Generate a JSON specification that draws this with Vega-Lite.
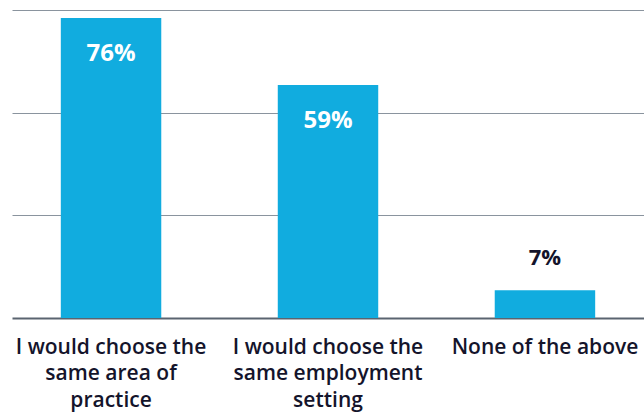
{
  "$schema": "https://vega.github.io/schema/vega-lite/v6.json",
  "autosize": "none",
  "padding": {"left": 12, "top": 10, "right": 0, "bottom": 94},
  "width": 632,
  "height": 308,
  "background": "white",
  "config": {"view": {"stroke": null}},
  "data": {"values": [
    {"category": "I would choose the|same area of|practice", "value": 76, "label": "76%"},
    {"category": "I would choose the|same employment|setting", "value": 59, "label": "59%"},
    {"category": "None of the above", "value": 7, "label": "7%"}
  ]},
  "encoding": {
    "x": {"field": "category", "type": "nominal", "sort": null,
      "scale": {"paddingInner": 0.537, "paddingOuter": 0.225},
      "axis": {"title": null, "labelAngle": 0, "labelExpr": "split(datum.label, '|')",
        "labelFont": "Open Sans", "labelFontSize": 21, "labelFontWeight": 600, "labelColor": "#14142b",
        "labelLineHeight": 26.5, "labelPadding": 18, "labelLimit": 300,
        "ticks": false, "domainColor": "#5a6470", "domainWidth": 2}},
    "y": {"field": "value", "type": "quantitative",
      "scale": {"domain": [0, 78], "nice": false},
      "axis": {"title": null, "labels": false, "ticks": false, "domain": false,
        "values": [26, 52, 78], "gridColor": "#8a949e", "gridWidth": 1}}
  },
  "layer": [
    {"mark": {"type": "bar", "color": "#11acdf"}},
    {"transform": [{"filter": "datum.value > 20"}],
      "mark": {"type": "text", "baseline": "middle", "dy": 36, "color": "white", "font": "Open Sans", "fontWeight": "bold", "fontSize": 24},
      "encoding": {"text": {"field": "label"}}},
    {"transform": [{"filter": "datum.value <= 20"}],
      "mark": {"type": "text", "baseline": "bottom", "dy": -20, "color": "#14142b", "font": "Open Sans", "fontWeight": "bold", "fontSize": 22},
      "encoding": {"text": {"field": "label"}}}
  ]
}
